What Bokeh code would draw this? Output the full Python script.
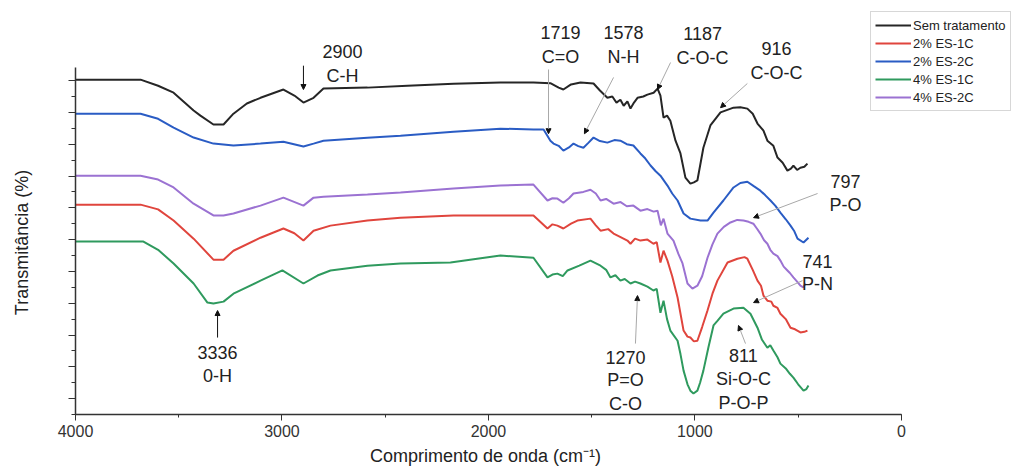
import math
from bokeh.plotting import figure
from bokeh.models import (Range1d, SingleIntervalTicker, Legend, LegendItem,
                          Label, Arrow, NormalHead, CustomLabelingPolicy)
from bokeh.embed import file_html
from bokeh.resources import INLINE

# ---- data: (wavenumber cm-1, transmittance a.u.) ----
sem_tratamento = [
    (4000, 100.3), (3685, 100.3), (3600, 98.4), (3525, 96.2), (3428, 90.6), (3395, 89.0),
    (3332, 86.2), (3283, 86.2), (3235, 89.6), (3170, 92.8), (3104, 94.6), (2993, 97.2),
    (2940, 95.3), (2896, 93.1), (2847, 94.6), (2799, 97.5), (2586, 97.8), (2392, 98.4),
    (2169, 99.0), (1942, 99.4), (1782, 99.4), (1700, 99.2), (1660, 97.8), (1637, 97.2),
    (1600, 98.8), (1554, 99.4), (1491, 99.1), (1460, 96.9), (1424, 94.6), (1400, 95.0),
    (1380, 93.1), (1361, 94.0), (1345, 92.1), (1327, 93.5), (1312, 91.2), (1295, 93.1),
    (1278, 94.6), (1250, 95.0), (1230, 95.6), (1200, 96.2), (1181, 97.5), (1167, 95.3),
    (1152, 88.4), (1135, 89.0), (1119, 87.4), (1094, 81.1), (1070, 77.1), (1046, 69.5),
    (1022, 67.6), (1005, 68.0), (988, 68.6), (959, 78.9), (925, 85.9), (876, 90.0),
    (813, 91.5), (780, 91.6), (746, 91.2), (720, 89.6), (697, 86.5), (668, 84.3),
    (649, 81.1), (620, 79.5), (600, 75.8), (575, 74.2), (552, 71.7), (535, 72.3),
    (523, 73.3), (505, 71.9), (489, 72.6), (470, 72.9), (455, 73.9),
]
es2_1c = [
    (4000, 61.0), (3685, 61.0), (3600, 59.5), (3525, 56.0), (3428, 50.3), (3332, 43.7),
    (3283, 43.7), (3235, 46.5), (3104, 50.6), (2993, 53.5), (2940, 52.0), (2896, 49.7),
    (2847, 52.8), (2765, 54.4), (2586, 56.0), (2426, 56.9), (2169, 57.6), (1942, 57.6),
    (1782, 57.6), (1714, 53.5), (1690, 54.8), (1666, 54.4), (1637, 53.5), (1600, 55.0),
    (1569, 56.0), (1506, 56.6), (1480, 54.5), (1457, 52.8), (1420, 53.3), (1394, 51.9),
    (1360, 50.8), (1327, 49.7), (1312, 48.7), (1290, 50.3), (1264, 49.7), (1230, 50.0),
    (1201, 48.7), (1185, 49.2), (1167, 42.8), (1152, 46.5), (1133, 43.4), (1110, 38.5),
    (1084, 31.8), (1055, 21.4), (1036, 19.5), (1022, 19.2), (1005, 18.0), (988, 18.2),
    (965, 22.5), (939, 27.7), (915, 33.0), (891, 37.1), (842, 42.8), (794, 44.0),
    (760, 44.5), (746, 44.0), (720, 40.5), (697, 37.1), (680, 35.5), (668, 32.4),
    (649, 30.8), (630, 30.5), (620, 29.2), (600, 28.5), (586, 26.7), (560, 25.0),
    (537, 22.3), (515, 21.8), (489, 20.8), (470, 21.0), (455, 21.4),
]
es2_2c = [
    (4000, 89.6), (3685, 89.6), (3600, 88.0), (3525, 85.2), (3428, 82.1), (3332, 80.2),
    (3235, 79.6), (3104, 80.2), (2993, 80.8), (2896, 79.3), (2847, 80.2), (2799, 81.1),
    (2586, 82.0), (2426, 82.7), (2169, 83.9), (1942, 84.9), (1782, 84.6), (1733, 84.6),
    (1700, 81.1), (1685, 80.2), (1660, 79.5), (1637, 78.0), (1610, 79.0), (1588, 80.2),
    (1565, 79.4), (1540, 78.9), (1515, 80.5), (1491, 82.1), (1460, 81.0), (1424, 80.5),
    (1390, 81.3), (1361, 81.1), (1330, 80.0), (1298, 79.6), (1264, 77.1), (1240, 75.5),
    (1215, 73.3), (1190, 71.5), (1167, 70.1), (1133, 67.0), (1110, 64.5), (1084, 62.3),
    (1055, 58.2), (1022, 56.6), (973, 56.0), (939, 56.0), (910, 58.5), (862, 62.3),
    (813, 66.4), (780, 67.8), (746, 68.2), (715, 66.8), (683, 65.4), (660, 64.0),
    (634, 62.3), (610, 60.6), (586, 58.5), (560, 56.4), (537, 54.4), (520, 52.8),
    (503, 50.3), (474, 49.1), (450, 50.6),
]
es4_1c = [
    (4000, 49.4), (3671, 49.4), (3600, 46.8), (3525, 42.5), (3428, 36.2), (3361, 30.2),
    (3332, 29.9), (3283, 30.5), (3235, 33.0), (3104, 37.1), (2998, 40.3), (2896, 36.2),
    (2828, 38.7), (2765, 40.3), (2586, 41.8), (2426, 42.5), (2184, 42.8), (1942, 45.0),
    (1782, 44.3), (1714, 38.1), (1690, 39.0), (1666, 39.3), (1640, 38.5), (1617, 40.3),
    (1560, 41.8), (1506, 43.4), (1457, 41.8), (1430, 40.5), (1409, 38.1), (1385, 38.8),
    (1361, 37.1), (1340, 37.6), (1312, 36.2), (1290, 36.8), (1264, 36.2), (1230, 35.2),
    (1201, 34.0), (1185, 34.5), (1167, 27.0), (1152, 30.8), (1135, 25.0), (1119, 21.4),
    (1084, 18.2), (1070, 14.0), (1055, 8.8), (1036, 4.5), (1022, 2.5), (1007, 1.6),
    (988, 2.5), (975, 5.0), (959, 8.8), (935, 16.0), (910, 23.0), (890, 24.5),
    (862, 26.7), (813, 28.3), (765, 28.6), (731, 26.7), (697, 22.3), (675, 18.5),
    (649, 16.0), (635, 16.8), (620, 15.1), (600, 13.0), (586, 11.0), (560, 9.5),
    (540, 7.8), (523, 6.6), (500, 4.5), (474, 2.5), (460, 3.0), (450, 4.1),
]
es4_2c = [
    (4000, 70.1), (3685, 70.1), (3600, 68.9), (3525, 66.4), (3428, 61.3), (3332, 57.6),
    (3283, 57.6), (3235, 58.2), (3104, 60.7), (2993, 63.2), (2896, 60.7), (2847, 63.2),
    (2799, 63.5), (2586, 64.2), (2426, 64.8), (2169, 66.1), (1942, 67.0), (1782, 67.3),
    (1714, 62.3), (1690, 63.0), (1666, 62.9), (1637, 61.6), (1610, 63.0), (1588, 64.5),
    (1540, 65.0), (1506, 65.7), (1480, 64.5), (1457, 62.3), (1430, 62.8), (1394, 61.3),
    (1360, 61.8), (1330, 60.5), (1298, 60.7), (1264, 59.1), (1230, 59.6), (1200, 58.8),
    (1181, 59.1), (1165, 54.5), (1152, 56.6), (1133, 51.9), (1104, 49.7), (1080, 45.5),
    (1060, 42.5), (1036, 36.2), (1012, 34.6), (988, 35.5), (965, 38.5), (939, 44.3),
    (915, 48.5), (891, 51.9), (860, 54.0), (828, 55.4), (795, 56.2), (765, 56.0),
    (740, 55.6), (717, 55.0), (700, 53.5), (683, 51.9), (665, 49.8), (649, 48.7),
    (635, 46.8), (620, 45.6), (600, 44.8), (586, 43.4), (570, 41.5), (552, 40.3),
    (540, 39.5), (523, 38.1), (505, 36.8), (489, 35.5), (475, 35.0), (464, 36.2),
]

series_names = ["Sem tratamento", "2% ES-1C", "2% ES-2C", "4% ES-1C", "4% ES-2C"]
series_data = [sem_tratamento, es2_1c, es2_2c, es4_1c, es4_2c]
series_colors = ["#262626", "#e0453d", "#2a5cc4", "#2f9a5e", "#9b72d2"]

x_title = "Comprimento de onda (cm⁻¹)"
y_title = "Transmitância (%)"

# band annotations: (wavenumber, transmittance, text)
band_texts = [
    (2707, 109.1, "2900"), (2707, 101.6, "C-H"),
    (3312, 14.5, "3336"), (3312, 7.2, "0-H"),
    (1651, 115.1, "1719"), (1651, 107.4, "C=O"),
    (1346, 115.1, "1578"), (1346, 107.4, "N-H"),
    (963, 114.8, "1187"), (963, 107.2, "C-O-C"),
    (605, 110.1, "916"), (605, 102.5, "C-O-C"),
    (271, 68.3, "797"), (271, 61.0, "P-O"),
    (406, 43.1, "741"), (406, 35.9, "P-N"),
    (765, 13.5, "811"), (765, 6.3, "Si-O-C"), (765, -1.3, "P-O-P"),
    (1336, 12.9, "1270"), (1336, 5.7, "P=O"), (1336, -1.6, "C-O"),
]
# band arrows: (x_start, y_start, x_end, y_end, dark?)
band_arrows = [
    (2896, 104.7, 2896, 97.2, True),
    (3312, 19.2, 3312, 27.7, True),
    (1709, 103.5, 1709, 83.3, False),
    (1394, 101.0, 1535, 83.3, False),
    (1118, 105.7, 1181, 97.2, False),
    (746, 99.1, 876, 91.5, False),
    (406, 64.5, 716, 56.9, False),
    (479, 37.1, 716, 30.2, False),
    (755, 17.3, 789, 23.0, False),
    (1288, 17.3, 1278, 32.4, False),
]

FONT = "Liberation Sans"

p = figure(width=1013, height=473, output_backend="svg", toolbar_location=None,
           x_range=Range1d(4000, -543), y_range=Range1d(-5, 125.2),
           min_border_left=75, min_border_right=0, min_border_top=0,
           min_border_bottom=59)
p.outline_line_color = None
p.xgrid.visible = False
p.ygrid.visible = False
p.background_fill_color = "white"

xa = p.xaxis[0]
xa.ticker = SingleIntervalTicker(interval=1000, num_minor_ticks=2)
xa.bounds = (0, 4000)
xa.axis_line_color = "#333333"
xa.axis_line_width = 1.5
xa.major_tick_line_color = "#333333"
xa.minor_tick_line_color = "#333333"
xa.major_tick_in = 0
xa.major_tick_out = 6
xa.minor_tick_in = 0
xa.minor_tick_out = 3
xa.major_label_text_font = FONT
xa.major_label_text_font_size = "16px"
xa.major_label_text_color = "#333333"
xa.major_label_standoff = 4

ya = p.yaxis[0]
ya.ticker = SingleIntervalTicker(interval=10, num_minor_ticks=2)
ya.bounds = (-5, 104)
ya.axis_line_color = "#333333"
ya.axis_line_width = 1.5
ya.major_tick_line_color = "#333333"
ya.minor_tick_line_color = "#333333"
ya.major_tick_in = 0
ya.major_tick_out = 7
ya.minor_tick_in = 0
ya.minor_tick_out = 4
ya.major_label_policy = CustomLabelingPolicy(
    code="for (const i of Array.from(indices)) { indices.unset(i) }\nreturn indices")

# axis titles, centred on the drawn axis lines as in the reference;
# placed in the side panels so that they are not clipped to the frame
p.add_layout(Label(x=2014, y=-17.9, text=x_title, text_align="center",
                   text_baseline="middle", text_font=FONT, text_font_size="18px",
                   text_color="#222222"), "below")
p.add_layout(Label(x=4257, y=49.1, text=y_title, angle=math.pi / 2,
                   text_align="center", text_baseline="middle", text_font=FONT,
                   text_font_size="18px", text_color="#222222"), "left")

items = []
for name, data, color in zip(series_names, series_data, series_colors):
    xs = [d[0] for d in data]
    ys = [d[1] for d in data]
    r = p.line(xs, ys, line_color=color, line_width=2)
    items.append(LegendItem(label=name, renderers=[r]))

for wx, wy, t in band_texts:
    p.add_layout(Label(x=wx, y=wy, text=t, text_align="center", text_baseline="middle",
                       text_font=FONT, text_font_size="18px", text_color="#222222"))

for xs, ys, xe, ye, dark in band_arrows:
    col = "#111111" if dark else "#a8a8a8"
    p.add_layout(Arrow(end=NormalHead(size=5, fill_color="#111111", line_color="#111111"),
                       x_start=xs, y_start=ys, x_end=xe, y_end=ye,
                       line_color=col, line_width=1))

legend = Legend(items=items, location=(795, 303), orientation="vertical")
legend.label_text_font = FONT
legend.label_text_font_size = "13px"
legend.label_text_color = "#222222"
legend.glyph_width = 36
legend.glyph_height = 18
legend.label_height = 18
legend.label_standoff = 2
legend.spacing = 0
legend.padding = 4
legend.margin = 0
legend.border_line_color = "#b0b0b0"
legend.border_line_width = 1
legend.background_fill_alpha = 1
p.add_layout(legend)

open("out.html", "w").write(file_html(p, INLINE))
